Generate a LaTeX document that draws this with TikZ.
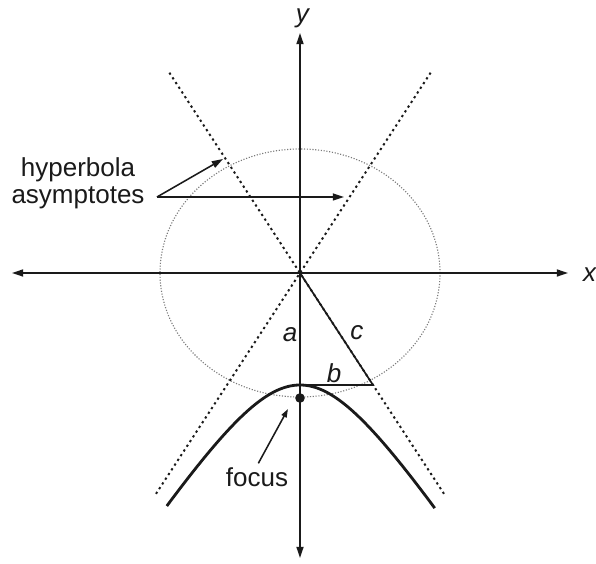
\documentclass[tikz,border=0pt]{standalone}
\usepackage{fontspec}
\setmainfont{Liberation Sans}
\usepackage{tikz}
\usetikzlibrary{arrows.meta,calc,positioning}
\definecolor{inkgray}{HTML}{1A1A1A}
\definecolor{circlegray}{HTML}{7A7A7A}
\tikzset{
  axisline/.style={{Triangle[length=8pt,width=5pt]}-{Triangle[length=8pt,width=5pt]},line width=1.2pt,inkgray},
  asymptote/.style={inkgray,line width=1.4pt,dash pattern=on 1.6pt off 2.4pt},
  guidecircle/.style={circlegray,line width=0.8pt,dash pattern=on 0.8pt off 1.2pt},
  hypcurve/.style={inkgray,line width=2pt},
  legline/.style={inkgray,line width=1.2pt},
  pointer/.style={-{Triangle[length=8pt,width=5pt]},line width=1.1pt,inkgray},
  smallpointer/.style={-{Triangle[length=6pt,width=4pt]},line width=1.1pt,inkgray},
  focusdot/.style={circle,fill=inkgray,inner sep=0pt,minimum size=0.24cm},
  textlabel/.style={font=\fontsize{18.5}{19.5}\selectfont,inner sep=1pt,text=inkgray}
}

\begin{document}
\begin{tikzpicture}
\useasboundingbox (-7.5,-7.275) rectangle (7.4,6.825);
\coordinate (O) at (0,0);
\coordinate (xl) at (-7.2,0);
\coordinate (xr) at (6.7,0);
\coordinate (yb) at (0,-7.125);
\coordinate (yt) at (0,6.0);
% guide circle and asymptotes
\draw[guidecircle] (O) ellipse [x radius=3.5,y radius=3.1];
\foreach \s in {1,-1}{
  \draw[asymptote] ({-3.6*\s},-5.52) -- ({3.3*\s},5.06);
}
% axes
\draw[axisline] (xl) -- (xr);
\draw[axisline] (yb) -- (yt);
\node[textlabel] (xlab) at (7.25,-0.05) {\textit{x}};
\node[textlabel] (ylab) at (0.075,6.375) {\textit{y}};
% hyperbola branch
\draw[hypcurve] plot[domain=-3.33:3.37,samples=120] (\x,{-2.8*sqrt(1+(\x/1.825)^2)});
% a, b, c triangle
\coordinate (V) at (0,-2.8);
\coordinate (B) at (1.825,-2.8);
\draw[legline] (O) -- (B) -- (V);
\node[textlabel] (alab) at (-0.25,-1.55) {\textit{a}};
\node[textlabel] (clab) at (1.425,-1.5) {\textit{c}};
\node[textlabel] (blab) at (0.85,-2.5) {\textit{b}};
% focus
\node[focusdot] (F) at (0,-3.125) {};
\coordinate (ftip) at (-0.3,-3.4);
\node[textlabel] (focuslab) at (-1.075,-5.1) {focus};
\draw[smallpointer,shorten <=2pt] (focuslab.north) -- (ftip);
% asymptote label
\node[textlabel,align=center] (asylab) at (-5.55,2.24) {hyperbola\\asymptotes};
\coordinate (asyfrom) at (-3.575,1.9);
\coordinate (asyleft) at (-1.925,2.85);
\coordinate (asyright) at (1.1,1.9);
\draw[pointer] (asyfrom) -- (asyleft);
\draw[pointer] (asyfrom) -- (asyright);
\end{tikzpicture}
\end{document}
